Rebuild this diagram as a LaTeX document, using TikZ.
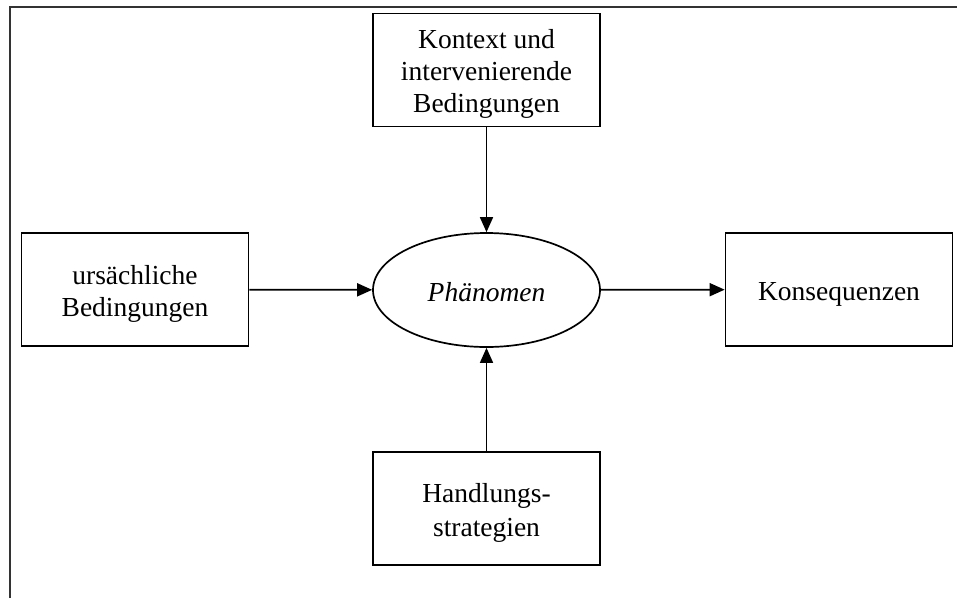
\documentclass[tikz,border=0pt]{standalone}
\usepackage{fontspec}
\setmainfont{Liberation Serif}
\usetikzlibrary{arrows.meta,shapes.geometric}
% line strut: fixed height and depth for every text line
\newcommand\lstrut{\rule[-5pt]{0pt}{32pt}}
\begin{document}
\begin{tikzpicture}[x=1pt,y=-1pt,
  every node/.style={font=\fontsize{27.5}{32}\selectfont, align=center, inner sep=0pt},
  block/.style={draw, line width=1.7pt, minimum width=227pt, minimum height=113pt},
  phen/.style={draw, line width=1.7pt, ellipse, minimum width=227pt, minimum height=114pt},
  flow/.style={line width=1.7pt, -{Triangle[length=15pt,width=13pt]}},
  frame/.style={line width=2pt, draw=black!80}
]
  \useasboundingbox (0,0) rectangle (957,598);
  % outer frame (top and left edges)
  \coordinate (fbl) at (9.5,598);
  \coordinate (ftl) at (9.5,7);
  \coordinate (ftr) at (957,7);
  \draw[frame] (fbl) -- (ftl) -- (ftr);

  \node[block] (ctx) at (486.5,70) {\lstrut Kontext und\\\lstrut intervenierende\\\lstrut Bedingungen};
  \node[block] (cause) at (135,289.5) {\lstrut ursächliche\\\lstrut Bedingungen};
  \node[block] (cons) at (839,289.5) {\lstrut Konsequenzen};
  \node[block] (act) at (486.5,508.5) {\lstrut Handlungs-\\\lstrut strategien};
  \node[phen] (ph) at (486.5,290) {\lstrut\itshape Phänomen};

  \draw[flow] (ctx) -- (ph);
  \draw[flow] (cause) -- (ph);
  \draw[flow] (ph) -- (cons);
  \draw[flow] (act) -- (ph);
\end{tikzpicture}
\end{document}
